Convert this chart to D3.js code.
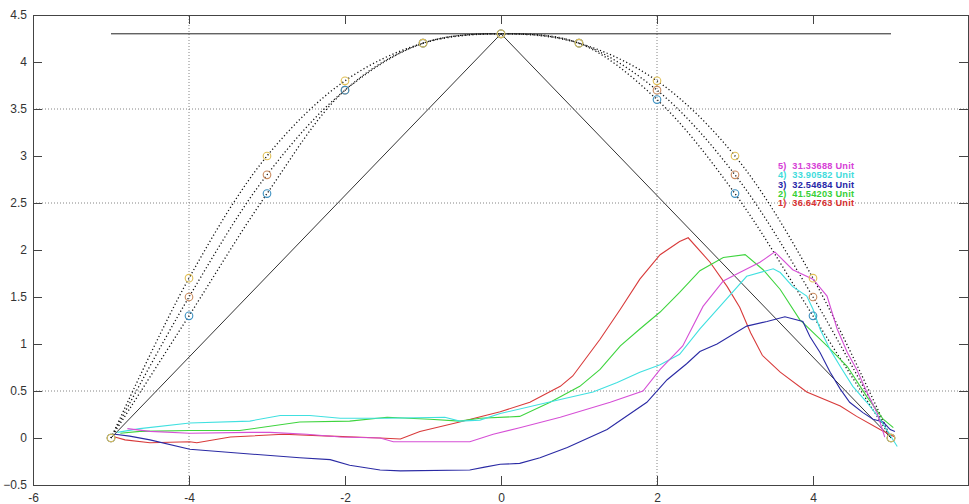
<!DOCTYPE html>
<meta charset="utf-8">
<script src="https://d3js.org/d3.v7.min.js"></script>
<style>
  body { margin: 0; background: #fff; }
  text { font-family: "Liberation Sans", Arial, sans-serif; }
</style>
<div id="my_dataviz"></div>
<script>

// ticks
var xTicks = [-6, -4, -2, 0, 2, 4, 6];
var yTicks = [-0.5, 0, 0.5, 1, 1.5, 2, 2.5, 3, 3.5, 4, 4.5];
var xGrid = [-4, 2];
var yGrid = [0.5, 2.5, 3.5];

// dotted reference curves (x = -5..5)
var curveX = [-5, -4, -3, -2, -1, 0, 1, 2, 3, 4, 5];
var curveYellow = [0, 1.7, 3.0, 3.8, 4.2, 4.3, 4.2, 3.8, 3.0, 1.7, 0];
var curveBrown  = [0, 1.5, 2.8, 3.7, 4.2, 4.3, 4.2, 3.7, 2.8, 1.5, 0];
var curveBlue   = [0, 1.3, 2.6, 3.7, 4.2, 4.3, 4.2, 3.6, 2.6, 1.3, 0];

// triangle + top line
var triangle = [[-5, 0], [0, 4.3], [5, 0]];
var topLine = [[-5, 4.3], [5, 4.3]];

// measured series
var red = [[-4.95,0.01],[-4.82,-0.02],[-4.5,-0.05],[-3.99,-0.04],[-3.9,-0.05],[-3.47,0.01],[-2.79,0.04],[-2.19,0.02],[-1.55,0.0],[-1.29,-0.01],[-1.04,0.07],[-0.53,0.17],[-0.01,0.28],[0.37,0.38],[0.76,0.55],[0.92,0.66],[1.27,1.05],[1.53,1.37],[1.78,1.69],[2.04,1.95],[2.29,2.09],[2.40,2.13],[2.68,1.87],[2.90,1.61],[3.06,1.39],[3.2,1.12],[3.35,0.88],[3.58,0.70],[3.92,0.49],[4.35,0.34],[4.56,0.23],[4.86,0.09],[5.05,0.01]];
var green = [[-4.88,0.05],[-4.63,0.07],[-3.99,0.08],[-3.35,0.08],[-2.58,0.17],[-1.94,0.18],[-1.46,0.22],[-0.91,0.2],[-0.53,0.18],[-0.27,0.21],[0.24,0.23],[0.63,0.38],[1.01,0.55],[1.27,0.73],[1.53,0.98],[1.78,1.16],[2.04,1.34],[2.29,1.55],[2.55,1.78],[2.85,1.92],[3.13,1.95],[3.36,1.79],[3.58,1.58],[3.83,1.26],[4.18,0.98],[4.44,0.76],[4.69,0.44],[4.9,0.2],[5.03,0.11]];
var blue = [[-4.95,0.04],[-4.76,0.02],[-4.5,-0.02],[-3.99,-0.12],[-3.22,-0.17],[-2.58,-0.21],[-2.19,-0.23],[-1.94,-0.29],[-1.55,-0.34],[-1.29,-0.35],[-0.4,-0.34],[-0.21,-0.31],[-0.01,-0.28],[0.24,-0.27],[0.5,-0.21],[0.85,-0.1],[1.36,0.09],[1.87,0.38],[2.13,0.62],[2.38,0.79],[2.55,0.92],[2.77,1.0],[3.15,1.19],[3.41,1.24],[3.64,1.29],[3.87,1.24],[3.96,1.08],[4.09,0.91],[4.22,0.7],[4.35,0.52],[4.47,0.38],[4.64,0.27],[4.77,0.2],[4.9,0.17],[4.99,0.09],[5.05,0.07]];
var cyan = [[-4.92,0.06],[-4.63,0.1],[-3.99,0.16],[-3.22,0.18],[-2.83,0.24],[-2.45,0.24],[-2.06,0.21],[-1.46,0.21],[-0.72,0.22],[-0.53,0.18],[-0.27,0.19],[-0.01,0.26],[0.76,0.41],[1.18,0.49],[1.49,0.59],[1.78,0.7],[2.04,0.78],[2.29,0.89],[2.55,1.16],[2.85,1.44],[3.15,1.72],[3.49,1.8],[3.58,1.76],[3.74,1.61],[3.92,1.51],[4.0,1.37],[4.09,1.16],[4.22,0.94],[4.35,0.76],[4.51,0.55],[4.69,0.38],[4.86,0.2],[5.08,-0.09]];
var magenta = [[-4.79,0.1],[-4.5,0.07],[-3.99,0.05],[-3.22,0.06],[-2.96,0.06],[-2.49,0.04],[-2.06,0.01],[-1.55,0.0],[-1.38,-0.04],[-0.95,-0.04],[-0.4,-0.04],[-0.1,0.04],[0.24,0.11],[0.76,0.22],[1.4,0.38],[1.82,0.5],[2.04,0.73],[2.33,0.98],[2.59,1.4],[2.85,1.67],[3.06,1.76],[3.32,1.87],[3.51,1.98],[3.74,1.79],[4.0,1.69],[4.18,1.51],[4.31,1.16],[4.44,0.91],[4.56,0.73],[4.69,0.49],[4.82,0.27],[4.92,0.01]];

var legendLabels = ["5)  31.33688 Unit", "4)  33.90582 Unit", "3)  32.54684 Unit", "2)  41.54203 Unit", "1)  36.64763 Unit"];
var legendColors = ["#d640d6", "#3fdcdc", "#2626a8", "#36d036", "#d83030"];

var width = 969, height = 504;
var margin = {top: 15, left: 33, bottom: 19, right: 0};

var svg = d3.select("#my_dataviz")
  .append("svg")
    .attr("width", width)
    .attr("height", height);

var x = d3.scaleLinear().domain([-6, 6]).range([margin.left, width - margin.right]);
var y = d3.scaleLinear().domain([-0.5, 4.5]).range([height - margin.bottom, margin.top]);

// grid
svg.selectAll(".vgrid").data(xGrid).enter().append("line")
  .attr("x1", function(d) { return x(d); }).attr("x2", function(d) { return x(d); })
  .attr("y1", y(-0.5)).attr("y2", y(4.5))
  .attr("stroke", "#666").attr("stroke-width", 0.8).attr("stroke-dasharray", "1,2");
svg.selectAll(".hgrid").data(yGrid).enter().append("line")
  .attr("x1", x(-6)).attr("x2", x(6))
  .attr("y1", function(d) { return y(d); }).attr("y2", function(d) { return y(d); })
  .attr("stroke", "#666").attr("stroke-width", 0.8).attr("stroke-dasharray", "1,2");

// axes (inward ticks on all four sides)
var axisColor = "#444";
svg.append("g")
  .attr("transform", "translate(0," + y(-0.5) + ")")
  .call(d3.axisBottom(x).tickValues(xTicks).tickSizeInner(-9).tickSizeOuter(0).tickPadding(8)
    .tickFormat(function(d) { return d == 6 ? "" : d; }))  // the 6 falls off the window
  .call(function(g) { g.selectAll("text").attr("font-size", 12).attr("fill", "#333"); });
svg.append("g")
  .attr("transform", "translate(0," + y(4.5) + ")")
  .call(d3.axisTop(x).tickValues(xTicks).tickSizeInner(-9).tickSizeOuter(0).tickFormat(""));
svg.append("g")
  .attr("transform", "translate(" + x(-6) + ",0)")
  .call(d3.axisLeft(y).tickValues(yTicks).tickSizeInner(-9).tickSizeOuter(0).tickPadding(6)
    .tickFormat(function(d) { return d3.format("")(d); }))
  .call(function(g) { g.selectAll("text").attr("font-size", 12).attr("fill", "#333"); });
svg.append("g")
  .attr("transform", "translate(" + (x(6) - 1) + ",0)")
  .call(d3.axisRight(y).tickValues(yTicks).tickSizeInner(-9).tickSizeOuter(0).tickFormat(""));
svg.selectAll(".domain, .tick line").attr("stroke", axisColor);

// top horizontal line and triangle
var line = d3.line().x(function(d) { return x(d[0]); }).y(function(d) { return y(d[1]); });
svg.append("path").datum(topLine).attr("d", line)
  .attr("fill", "none").attr("stroke", "#222").attr("stroke-width", 1);
svg.append("path").datum(triangle).attr("d", line)
  .attr("fill", "none").attr("stroke", "#333").attr("stroke-width", 1);

// dotted reference curves
var smooth = d3.line().curve(d3.curveCatmullRom.alpha(0.5))
  .x(function(d, i) { return x(curveX[i]); }).y(function(d) { return y(d); });
[curveBrown, curveBlue, curveYellow].forEach(function(c) {
  svg.append("path").datum(c).attr("d", smooth)
    .attr("fill", "none").attr("stroke", "#111").attr("stroke-width", 1.3)
    .attr("stroke-dasharray", "1.2,2.4");
});

// measured series
var series = [red, green, blue, cyan, magenta];
var seriesColors = ["#d83a3a", "#3ed43e", "#2a2aa4", "#40e0e0", "#d650d6"];
series.forEach(function(s, i) {
  svg.append("path").datum(s).attr("d", line)
    .attr("fill", "none").attr("stroke", seriesColors[i]).attr("stroke-width", 1.1);
});

// circle markers
var circleSets = [[curveBrown, "#c98a5e"], [curveBlue, "#3a8fc0"], [curveYellow, "#e0bf55"]];
circleSets.forEach(function(cs) {
  svg.selectAll(null).data(cs[0]).enter().append("circle")
    .attr("cx", function(d, i) { return x(curveX[i]); })
    .attr("cy", function(d) { return y(d); })
    .attr("r", 3.8)
    .attr("fill", "none").attr("stroke", cs[1]).attr("stroke-width", 1.1);
});

// legend
svg.selectAll(".leg").data(legendLabels).enter().append("text")
  .attr("x", 778)
  .attr("y", function(d, i) { return 169 + i * 9.3; })
  .attr("font-size", 9.2)
  .attr("font-weight", "bold")
  .attr("letter-spacing", 0.25)
  .attr("fill", function(d, i) { return legendColors[i]; })
  .style("white-space", "pre")
  .text(function(d) { return d; });

</script>
